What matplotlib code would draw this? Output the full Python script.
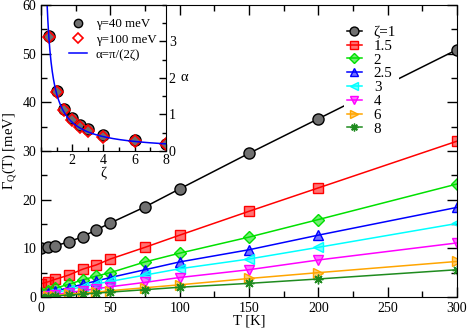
import numpy as np
import matplotlib
matplotlib.use("Agg")
import matplotlib.pyplot as plt
from matplotlib.colors import to_rgba
from matplotlib.ticker import MultipleLocator

plt.rcParams["font.family"] = ["Liberation Serif", "DejaVu Serif"]
plt.rcParams["mathtext.fontset"] = "custom"
plt.rcParams["mathtext.rm"] = "Liberation Serif"
plt.rcParams["font.size"] = 10

# main panel: Gamma_Q(T) for several zeta
T = [0, 5, 10, 20, 30, 40, 50, 75, 100, 150, 200, 300]
g_z1 = [10.0, 10.2, 10.5, 11.3, 12.4, 13.8, 15.2, 18.5, 22.2, 29.5, 36.6, 50.8]
g_z15 = [2.7, 3.1, 3.6, 4.5, 5.7, 6.6, 7.8, 10.2, 12.7, 17.6, 22.4, 32.0]
g_z2 = [0.9, 1.3, 1.8, 2.6, 3.5, 4.3, 5.0, 7.2, 9.0, 12.3, 15.9, 23.2]
g_z25 = [0.5, 0.8, 1.2, 1.9, 2.6, 3.3, 4.0, 5.6, 7.2, 9.7, 12.7, 18.4]
g_z3 = [0.3, 0.6, 0.9, 1.5, 2.1, 2.7, 3.2, 4.5, 5.8, 7.8, 10.2, 15.1]
g_z4 = [0.1, 0.3, 0.5, 0.9, 1.3, 1.7, 2.1, 3.0, 4.0, 5.6, 7.6, 11.1]
g_z6 = [0.0, 0.15, 0.3, 0.6, 0.8, 1.0, 1.3, 1.9, 2.5, 3.8, 5.0, 7.3]
g_z8 = [0.0, 0.1, 0.2, 0.4, 0.6, 0.8, 1.0, 1.5, 2.0, 2.8, 3.7, 5.6]
labels = ["\u03b6=1", "1.5", "2", "2.5", "3", "4", "6", "8"]

# inset: alpha vs zeta
zeta = [0.5, 1, 1.5, 2, 2.5, 3, 4, 6, 8]
alpha_40 = [3.15, 1.65, 1.15, 0.90, 0.71, 0.59, 0.44, 0.30, 0.19]
alpha_100 = [3.12, 1.62, 1.12, 0.85, 0.67, 0.55, 0.39, 0.28, 0.18]

series = [g_z1, g_z15, g_z2, g_z25, g_z3, g_z4, g_z6, g_z8]
colors = ["black", "red", "#00e000", "blue", "cyan", "magenta", "orange", "#1f8b1f"]
markers = ["o", "s", "D", "^", "<", "v", ">", (8, 2, 0)]
sizes = [8, 7, 6, 7.5, 7.5, 7.5, 7.5, 7]

serif = "Liberation Serif"

fig = plt.figure(figsize=(4.69, 3.29), dpi=100)
ax = fig.add_axes([0.0874, 0.0973, 0.887, 0.888])

for y, c, m, s, lab in zip(series, colors, markers, sizes, labels):
    face = "#707070" if c == "black" else to_rgba(c, 0.55)
    ax.plot(T, y, "-", color=c, lw=1.1, marker=m, ms=s,
            mfc=face, mec=c, mew=1.0, label=lab)

ax.set_xlim(0, 300)
ax.set_ylim(0, 60)
ax.xaxis.set_major_locator(MultipleLocator(50))
ax.xaxis.set_minor_locator(MultipleLocator(25))
ax.yaxis.set_major_locator(MultipleLocator(10))
ax.yaxis.set_minor_locator(MultipleLocator(5))
ax.tick_params(which="both", direction="in", top=True, right=True, width=1)
ax.tick_params(which="major", length=7)
ax.tick_params(which="minor", length=4)
ax.set_xlabel("T [K]", labelpad=0, fontsize=10.5)
ax.set_ylabel("\u0393$_\\mathrm{Q}$(T) [meV]", labelpad=2, fontsize=10.5)

leg = ax.legend(loc="upper left", bbox_to_anchor=(0.71, 0.965), frameon=True,
                framealpha=1, edgecolor="none", fancybox=False,
                handlelength=1.0, handletextpad=0.8, labelspacing=0.02,
                borderpad=0.2, markerscale=0.8,
                prop={"family": serif, "size": 10.8})

# inset
axi = fig.add_axes([0.0874, 0.541, 0.2665, 0.444], facecolor="none")
zz = np.linspace(0.39, 8, 300)
axi.plot(zeta, alpha_40, "o", ms=8, mfc="#707070", mec="black", mew=1.0,
         label="\u03b3=40 meV")
axi.plot(zeta, alpha_100, "D", ms=6.5, mfc="none", mec="red", mew=1.2,
         label="\u03b3=100 meV")
axi.plot(zz, np.pi / (2 * zz), "-", color="blue", lw=1.1,
         label="\u03b1=\u03c0/(2\u03b6)")
axi.set_xlim(0, 8)
axi.set_ylim(0, 4)
axi.set_xticks([2, 4, 6, 8])
axi.xaxis.set_minor_locator(MultipleLocator(1))
axi.yaxis.set_major_locator(MultipleLocator(1))
axi.yaxis.set_minor_locator(MultipleLocator(0.5))
axi.set_yticks([0, 1, 2, 3])
axi.yaxis.tick_right()
axi.yaxis.set_label_position("right")
axi.tick_params(which="both", direction="in", left=False, top=False, width=1,
                pad=2)
axi.tick_params(which="major", length=5)
axi.tick_params(which="minor", length=3)
axi.set_xlabel("\u03b6", labelpad=0, fontsize=10.5)
axi.set_ylabel("\u03b1", rotation=0, labelpad=6, va="center", fontsize=10.5)
axi.legend(loc="upper left", bbox_to_anchor=(0.15, 0.97), frameon=False,
           handlelength=1.4, handletextpad=0.7, labelspacing=0.25,
           borderpad=0.2, markerscale=0.75,
           prop={"family": serif, "size": 9.3})

fig.savefig("out.png", dpi=100)
